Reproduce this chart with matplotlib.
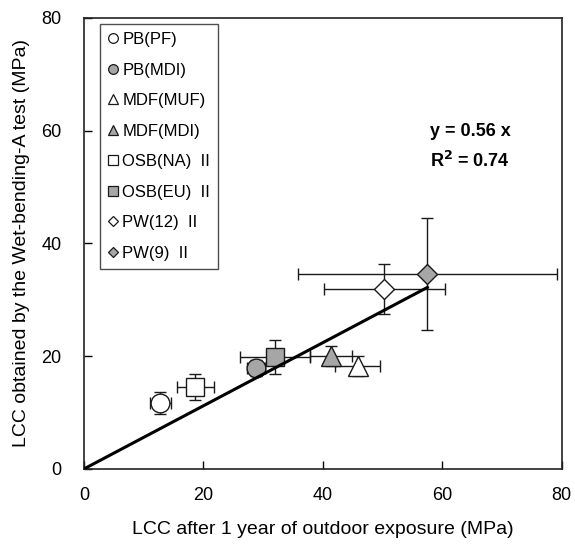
import matplotlib
matplotlib.use("Agg")
import matplotlib.pyplot as plt
from matplotlib.lines import Line2D

plt.rcParams['font.family'] = ['Liberation Sans', 'DejaVu Sans']

# Datos (MPa)
labels = ["PB(PF)", "PB(MDI)", "MDF(MUF)", "MDF(MDI)",
          "OSB(NA)  II", "OSB(EU)  II", "PW(12)  II", "PW(9)  II"]
x_vals = [12.8, 28.8, 45.8, 41.4, 18.6, 32.0, 50.3, 57.5]
y_vals = [11.7, 17.9, 18.3, 20.0, 14.6, 19.8, 31.9, 34.6]
x_err = [1.8, 1.5, 3.7, 3.5, 3.1, 5.8, 10.1, 21.7]
y_err = [1.9, 1.4, 1.8, 1.8, 2.3, 3.0, 4.5, 10.0]
markers = ["o", "o", "^", "^", "s", "s", "D", "D"]
filled = [False, True, False, True, False, True, False, True]
sizes = [13.5, 13.5, 14, 14, 13, 13, 10, 10]
slope = 0.56
r2 = 0.74

GRIS = "#a6a6a6"

fig = plt.figure(figsize=(5.75, 5.44), dpi=100)
ax = fig.add_axes([0.146, 0.138, 0.831, 0.829])

for i in range(len(labels)):
    ax.errorbar(x_vals[i], y_vals[i], xerr=x_err[i], yerr=y_err[i],
                fmt="none", ecolor="#1a1a1a", elinewidth=1.0,
                capsize=4, capthick=1.0, zorder=2)
    ax.plot(x_vals[i], y_vals[i], linestyle="none", marker=markers[i],
            markersize=sizes[i], markerfacecolor=GRIS if filled[i] else "white",
            markeredgecolor="#1a1a1a", markeredgewidth=1.0, zorder=3)

# Recta de regresión forzada por el origen
x_max = max(x_vals)
ax.plot([0, x_max], [0, slope * x_max], color="black", linewidth=2.2, zorder=4)

ax.text(0.808, 0.749, "y = %.2f x" % slope, transform=ax.transAxes,
        fontsize=13, fontweight="bold", ha="center", va="center")
ax.text(0.808, 0.682, "R$^\\mathbf{2}$ = %.2f" % r2, transform=ax.transAxes,
        fontsize=13, fontweight="bold", ha="center", va="center")

ax.set_xlim(0, 80)
ax.set_ylim(0, 80)
ax.set_xticks([0, 20, 40, 60, 80])
ax.set_yticks([0, 20, 40, 60, 80])
ax.tick_params(direction="in", length=6, width=1, labelsize=13, colors="black")
ax.tick_params(axis="x", pad=13)
ax.tick_params(axis="y", pad=16)
for s in ax.spines.values():
    s.set_linewidth(1.2)
    s.set_color("#222222")

ax.set_xlabel("LCC after 1 year of outdoor exposure (MPa)", fontsize=14,
              labelpad=12)
ax.set_ylabel("LCC obtained by the Wet-bending-A test (MPa)", fontsize=14,
              labelpad=8)

handles = [Line2D([], [], linestyle="none", marker=markers[i],
                  markersize=7 if markers[i] != "D" else 5.5,
                  markerfacecolor=GRIS if filled[i] else "white",
                  markeredgecolor="#1a1a1a", markeredgewidth=0.9)
           for i in range(len(labels))]
leg = ax.legend(handles, labels, loc="upper left", bbox_to_anchor=(0.033, 0.987),
                fontsize=12, frameon=True, fancybox=False, handlelength=0.6,
                handletextpad=0.25, labelspacing=0.93, borderpad=0.5,
                borderaxespad=0)
leg.get_frame().set_edgecolor("#222222")
leg.get_frame().set_linewidth(1.0)

fig.savefig("out.png", dpi=100)
